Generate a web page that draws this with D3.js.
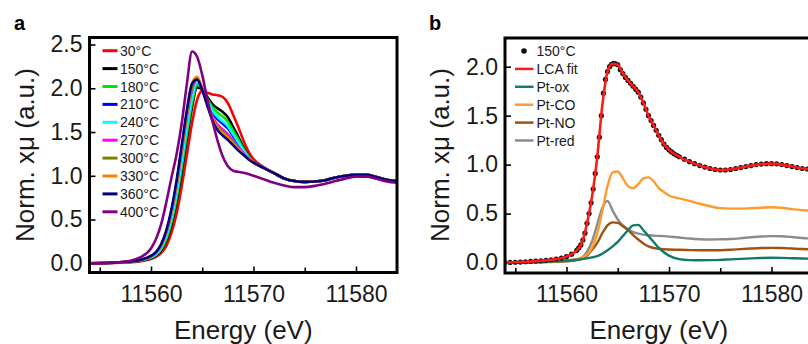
<!DOCTYPE html>
<html>
<head>
<meta charset="utf-8">
<script src="https://cdn.jsdelivr.net/npm/d3@7"></script>
<style>
body { margin: 0; background: #fff; }
svg { display: block; font-family: "Liberation Sans", Arial, sans-serif; }
</style>
</head>
<body>
<div id="chart"></div>
<script>

// energy grid (eV) shared by the panel a curves and the panel b components
var energy = [11554, 11556, 11558, 11559, 11560,
    11560.5, 11561, 11561.5, 11562, 11562.5, 11563, 11563.5, 11564, 11564.5, 11565,
    11565.5, 11566, 11566.5, 11567, 11567.5, 11568, 11568.5, 11569, 11569.5,
    11570, 11571, 11572, 11573, 11574, 11575, 11576, 11577, 11578, 11579, 11580, 11581, 11582, 11583, 11584];

// panel a: temperature series
var tempLabels = ["30°C", "150°C", "180°C", "210°C", "240°C", "270°C", "300°C", "330°C", "360°C", "400°C"];

var t30 = [0, 0.004, 0.012, 0.025, 0.05,
    0.075, 0.12, 0.2, 0.35, 0.57, 0.88, 1.24, 1.6, 1.87, 1.97, 1.95, 1.93, 1.92, 1.9, 1.83, 1.7, 1.56, 1.41, 1.28,
    1.19, 1.1, 1.03, 0.97, 0.94, 0.93, 0.935, 0.95, 0.98, 1.0, 1.01, 1.01, 0.985, 0.955, 0.94];
var t150 = [0, 0.005, 0.015, 0.03, 0.06,
    0.09, 0.15, 0.26, 0.44, 0.7, 1.04, 1.42, 1.78, 2.01, 1.99, 1.9, 1.82, 1.77, 1.73, 1.67, 1.56, 1.45, 1.33, 1.23,
    1.16, 1.09, 1.03, 0.97, 0.94, 0.93, 0.935, 0.95, 0.98, 1.0, 1.01, 1.01, 0.985, 0.955, 0.94];
var t180 = [0, 0.005, 0.016, 0.032, 0.065,
    0.098, 0.164, 0.284, 0.476, 0.75, 1.102, 1.486, 1.834, 2.04, 2.0, 1.88, 1.782, 1.72, 1.676, 1.618, 1.518, 1.418, 1.312, 1.222,
    1.158, 1.09, 1.03, 0.97, 0.94, 0.93, 0.935, 0.95, 0.98, 1.0, 1.01, 1.01, 0.985, 0.955, 0.94];
var t210 = [0, 0.005, 0.018, 0.035, 0.073,
    0.11, 0.185, 0.32, 0.53, 0.825, 1.195, 1.585, 1.915, 2.07, 2.0, 1.85, 1.725, 1.645, 1.595, 1.54, 1.455, 1.37, 1.285, 1.21,
    1.155, 1.09, 1.03, 0.97, 0.94, 0.93, 0.935, 0.95, 0.98, 1.0, 1.01, 1.01, 0.985, 0.955, 0.94];
var t240 = [0, 0.005, 0.017, 0.034, 0.07,
    0.106, 0.178, 0.308, 0.512, 0.8, 1.164, 1.552, 1.888, 2.07, 2.0, 1.86, 1.744, 1.67, 1.622, 1.566, 1.476, 1.386, 1.294, 1.214,
    1.156, 1.09, 1.03, 0.97, 0.94, 0.93, 0.935, 0.95, 0.98, 1.0, 1.01, 1.01, 0.985, 0.955, 0.94];
var t270 = [0, 0.005, 0.019, 0.038, 0.079,
    0.12, 0.203, 0.35, 0.575, 0.888, 1.273, 1.668, 1.983, 2.1, 1.99, 1.825, 1.678, 1.583, 1.528, 1.475, 1.403, 1.33, 1.263, 1.2,
    1.153, 1.09, 1.03, 0.97, 0.94, 0.93, 0.935, 0.95, 0.98, 1.0, 1.01, 1.01, 0.985, 0.955, 0.94];
var t300 = [0, 0.005, 0.019, 0.039, 0.081,
    0.124, 0.21, 0.362, 0.593, 0.913, 1.304, 1.7, 2.01, 2.11, 1.99, 1.815, 1.66, 1.558, 1.5, 1.449, 1.382, 1.314, 1.254, 1.196,
    1.152, 1.09, 1.03, 0.97, 0.94, 0.93, 0.935, 0.95, 0.98, 1.0, 1.01, 1.01, 0.985, 0.955, 0.94];
var t330 = [0, 0.006, 0.02, 0.039, 0.083,
    0.126, 0.213, 0.368, 0.602, 0.925, 1.319, 1.717, 2.06, 2.13, 2.0, 1.81, 1.65, 1.545, 1.487, 1.436, 1.371, 1.306, 1.249, 1.194,
    1.151, 1.09, 1.03, 0.97, 0.94, 0.93, 0.935, 0.95, 0.98, 1.0, 1.01, 1.01, 0.985, 0.955, 0.94];
var t360 = [0, 0.006, 0.02, 0.04, 0.085,
    0.13, 0.22, 0.38, 0.62, 0.95, 1.35, 1.75, 2.05, 2.1, 1.98, 1.8, 1.63, 1.52, 1.46, 1.41, 1.35, 1.29, 1.24, 1.19,
    1.15, 1.09, 1.03, 0.97, 0.94, 0.93, 0.935, 0.95, 0.98, 1.0, 1.01, 1.01, 0.985, 0.955, 0.94];
var t400 = [0, 0.006, 0.03, 0.07, 0.17,
    0.28, 0.45, 0.7, 0.98, 1.25, 1.6, 2.05, 2.42, 2.36, 2.15, 1.87, 1.62, 1.4, 1.22, 1.11, 1.06, 1.045, 1.035, 1.02,
    1.0, 0.96, 0.92, 0.89, 0.87, 0.87, 0.885, 0.91, 0.94, 0.97, 0.99, 0.99, 0.965, 0.935, 0.92];

// panel b: measured 150°C points (finer steps through the edge)
var dotEnergy = [11554, 11554.5, 11555, 11555.5, 11556, 11556.5, 11557, 11557.5, 11558, 11558.5, 11559, 11559.5, 11560, 11560.5, 11561,
    11561.2, 11561.4, 11561.6, 11561.8, 11562, 11562.2, 11562.4, 11562.6, 11562.8, 11563, 11563.2, 11563.4, 11563.6, 11563.8,
    11564, 11564.2, 11564.4, 11564.6, 11564.8, 11565,
    11565.25, 11565.5, 11565.75, 11566, 11566.25, 11566.5, 11566.75, 11567, 11567.25, 11567.5, 11567.75, 11568,
    11568.25, 11568.5, 11568.75, 11569, 11569.25, 11569.5, 11569.75, 11570, 11570.25, 11570.5, 11570.75, 11571,
    11571.5, 11572, 11572.5, 11573, 11573.5, 11574, 11574.5, 11575, 11575.5, 11576, 11576.5, 11577, 11577.5, 11578,
    11578.5, 11579, 11579.5, 11580, 11580.5, 11581, 11581.5, 11582, 11582.5, 11583, 11583.5, 11584];
var meas150 = [0, 0.001, 0.003, 0.005, 0.008, 0.011, 0.015, 0.018, 0.022, 0.028, 0.035, 0.046, 0.06, 0.085, 0.125,
    0.15, 0.18, 0.23, 0.3, 0.4, 0.5, 0.61, 0.75, 0.91, 1.08, 1.28, 1.5, 1.73, 1.87,
    1.95, 2.0, 2.025, 2.035, 2.03, 2.02,
    1.97, 1.93, 1.89, 1.86, 1.83, 1.8, 1.77, 1.74, 1.69, 1.63, 1.565, 1.5,
    1.45, 1.4, 1.35, 1.3, 1.255, 1.21, 1.175, 1.15, 1.13, 1.11, 1.095, 1.08,
    1.055, 1.03, 1.01, 0.99, 0.975, 0.96, 0.95, 0.945, 0.945, 0.95, 0.96, 0.97, 0.98, 0.99,
    1.0, 1.005, 1.01, 1.01, 1.008, 1.0, 0.99, 0.98, 0.97, 0.96, 0.955, 0.95];

var compLabels = ["LCA fit", "Pt-ox", "Pt-CO", "Pt-NO", "Pt-red"];
var lcaFit = [0, 0.008, 0.022, 0.035, 0.06,
    0.085, 0.125, 0.2, 0.4, 0.68, 1.08, 1.61, 1.95, 2.03, 2.02, 1.93, 1.86, 1.8, 1.74, 1.63, 1.5, 1.4, 1.3, 1.21,
    1.15, 1.08, 1.03, 0.99, 0.96, 0.945, 0.95, 0.97, 0.99, 1.005, 1.01, 1.0, 0.98, 0.96, 0.95];
var ptOx = [0, 0.003, 0.008, 0.012, 0.018,
    0.023, 0.028, 0.035, 0.043, 0.052, 0.065, 0.09, 0.125, 0.165, 0.21, 0.27, 0.33, 0.38, 0.385, 0.33, 0.27, 0.21, 0.15, 0.105,
    0.07, 0.035, 0.025, 0.023, 0.024, 0.027, 0.032, 0.037, 0.042, 0.046, 0.048, 0.047, 0.044, 0.041, 0.04];
var ptCO = [0, 0.002, 0.006, 0.01, 0.018,
    0.025, 0.035, 0.05, 0.08, 0.15, 0.3, 0.53, 0.78, 0.92, 0.93, 0.86, 0.78, 0.76, 0.8, 0.86, 0.87, 0.83, 0.76, 0.72,
    0.685, 0.655, 0.63, 0.6, 0.575, 0.555, 0.55, 0.55, 0.555, 0.56, 0.565, 0.56, 0.545, 0.535, 0.53];
var ptNO = [0, 0.002, 0.005, 0.008, 0.013,
    0.017, 0.024, 0.04, 0.07, 0.13, 0.2, 0.3, 0.38, 0.41, 0.405, 0.37, 0.33, 0.28, 0.235, 0.195, 0.165, 0.148, 0.14, 0.135,
    0.133, 0.13, 0.127, 0.125, 0.125, 0.126, 0.13, 0.137, 0.143, 0.148, 0.15, 0.148, 0.143, 0.138, 0.135];
var ptRed = [0, 0.003, 0.007, 0.012, 0.02,
    0.028, 0.035, 0.05, 0.11, 0.22, 0.39, 0.56, 0.63, 0.53, 0.44, 0.38, 0.34, 0.31, 0.295, 0.285, 0.28, 0.275, 0.272, 0.27,
    0.265, 0.255, 0.245, 0.238, 0.235, 0.237, 0.24, 0.248, 0.258, 0.266, 0.27, 0.268, 0.26, 0.25, 0.245];

var xTicksMajor = [11560, 11570, 11580];
var xTicksMinor = [11555, 11565, 11575];
var yTicksA = [0, 0.5, 1.0, 1.5, 2.0, 2.5];
var yTicksB = [0, 0.5, 1.0, 1.5, 2.0];

var tempColors = ["#ff0000", "#000000", "#00e600", "#0000ff", "#00ffff", "#ff00ff", "#808000", "#ff8000", "#000080", "#800080"];
var compColors = ["#ff1a1a", "#137a6b", "#ff9a2e", "#a0520f", "#8c8c8c"];

var svg = d3.select("#chart")
    .append("svg")
    .attr("width", 808)
    .attr("height", 344);

function makeLine(x, y) {
    return d3.line()
        .x(d => x(d[0]))
        .y(d => y(d[1]))
        .curve(d3.curveMonotoneX);
}

function zipXY(xs, ys) {
    return xs.map((e, i) => [e, ys[i]]);
}

// frame, ticks and titles for one panel
function drawFrame(box, x, y, yTicks, id, letter, letterX) {
    var defs = svg.append("defs");
    defs.append("clipPath").attr("id", id)
        .append("rect")
        .attr("x", box.left).attr("y", box.top)
        .attr("width", box.right - box.left).attr("height", box.bottom - box.top);

    var xMajor = svg.append("g")
        .attr("transform", `translate(0, ${box.bottom})`)
        .call(d3.axisBottom(x).tickValues(xTicksMajor).tickSize(-6).tickPadding(13).tickFormat(d3.format("d")));
    var xMinor = svg.append("g")
        .attr("transform", `translate(0, ${box.bottom})`)
        .call(d3.axisBottom(x).tickValues(xTicksMinor).tickSize(-5).tickFormat(""));
    var yAxis = svg.append("g")
        .attr("transform", `translate(${box.left}, 0)`)
        .call(d3.axisLeft(y).tickValues(yTicks).tickSize(-6).tickPadding(7).tickFormat(d3.format(".1f")));

    [xMajor, xMinor, yAxis].forEach(g => {
        g.select(".domain").remove();
        g.selectAll("line").attr("stroke", "#000").attr("stroke-width", 1.6);
        g.selectAll("text").attr("font-size", 23).attr("fill", "#1a1a1a")
            .attr("font-family", "'Liberation Sans', Arial, sans-serif");
    });

    svg.append("text")
        .attr("transform", `translate(${box.left - 56}, 155) rotate(-90)`)
        .attr("text-anchor", "middle")
        .attr("font-size", 26)
        .attr("fill", "#1a1a1a")
        .text("Norm. xμ (a.u.)");

    svg.append("text")
        .attr("x", (box.left + box.right) / 2)
        .attr("y", 339)
        .attr("text-anchor", "middle")
        .attr("font-size", 26)
        .attr("fill", "#1a1a1a")
        .text("Energy (eV)");

    svg.append("text")
        .attr("x", letterX)
        .attr("y", 30)
        .attr("font-size", 20)
        .attr("font-weight", "bold")
        .text(letter);
}

function drawBorder(box) {
    svg.append("rect")
        .attr("x", box.left).attr("y", box.top)
        .attr("width", box.right - box.left).attr("height", box.bottom - box.top)
        .attr("fill", "none")
        .attr("stroke", "#000")
        .attr("stroke-width", 3);
}

// ---------- panel a ----------
var boxA = { left: 89.5, right: 397, top: 37.5, bottom: 272.5 };
var xA = d3.scaleLinear().domain([11554, 11584]).range([boxA.left, boxA.right]);
var yA = d3.scaleLinear().domain([-0.105, 2.58]).range([boxA.bottom, boxA.top]);

drawFrame(boxA, xA, yA, yTicksA, "clipA", "a", 14);

var seriesA = [t30, t150, t180, t210, t240, t270, t300, t330, t360, t400];
var lineA = makeLine(xA, yA);
var curvesA = svg.append("g").attr("clip-path", "url(#clipA)");
seriesA.forEach((s, i) => {
    curvesA.append("path")
        .attr("d", lineA(zipXY(energy, s)))
        .attr("fill", "none")
        .attr("stroke", tempColors[i])
        .attr("stroke-width", 2.6)
        .attr("stroke-linejoin", "round");
});

var legA = svg.append("g");
tempLabels.forEach((t, i) => {
    var ly = 50.7 + i * 17.9;
    legA.append("line")
        .attr("x1", 102.5).attr("x2", 117.5)
        .attr("y1", ly).attr("y2", ly)
        .attr("stroke", tempColors[i])
        .attr("stroke-width", 3);
    legA.append("text")
        .attr("x", 120)
        .attr("y", ly)
        .attr("dy", "0.36em")
        .attr("font-size", 14)
        .attr("fill", "#1a1a1a")
        .text(t);
});

drawBorder(boxA);

// ---------- panel b ----------
var boxB = { left: 505, right: 812.5, top: 38, bottom: 273 };
var xB = d3.scaleLinear().domain([11554, 11584]).range([boxB.left, boxB.right]);
var yB = d3.scaleLinear().domain([-0.107, 2.293]).range([boxB.bottom, boxB.top]);

drawFrame(boxB, xB, yB, yTicksB, "clipB", "b", 429);

var lineB = makeLine(xB, yB);
var curvesB = svg.append("g").attr("clip-path", "url(#clipB)");

// components first (Pt-red, Pt-NO, Pt-CO, Pt-ox)
[[ptRed, 4], [ptNO, 3], [ptCO, 2], [ptOx, 1]].forEach(c => {
    curvesB.append("path")
        .attr("d", lineB(zipXY(energy, c[0])))
        .attr("fill", "none")
        .attr("stroke", compColors[c[1]])
        .attr("stroke-width", 2.4);
});

// measured points
curvesB.selectAll("circle.meas")
    .data(zipXY(dotEnergy, meas150))
    .enter()
    .append("circle")
    .attr("class", "meas")
    .attr("cx", d => xB(d[0]))
    .attr("cy", d => yB(d[1]))
    .attr("r", 2.6)
    .attr("fill", "#111");

// fit
curvesB.append("path")
    .attr("d", lineB(zipXY(energy, lcaFit)))
    .attr("fill", "none")
    .attr("stroke", compColors[0])
    .attr("stroke-width", 2.6);

var legB = svg.append("g");
legB.append("circle")
    .attr("cx", 524).attr("cy", 51)
    .attr("r", 2.8)
    .attr("fill", "#111");
legB.append("text")
    .attr("x", 536.5).attr("y", 51).attr("dy", "0.36em")
    .attr("font-size", 14).attr("fill", "#1a1a1a")
    .text("150°C");
compLabels.forEach((t, i) => {
    var ly = 51 + (i + 1) * 17.9;
    legB.append("line")
        .attr("x1", 515).attr("x2", 533.5)
        .attr("y1", ly).attr("y2", ly)
        .attr("stroke", compColors[i])
        .attr("stroke-width", 2.5);
    legB.append("text")
        .attr("x", 536.5).attr("y", ly).attr("dy", "0.36em")
        .attr("font-size", 14).attr("fill", "#1a1a1a")
        .text(t);
});

drawBorder(boxB);

</script>
</body>
</html>
